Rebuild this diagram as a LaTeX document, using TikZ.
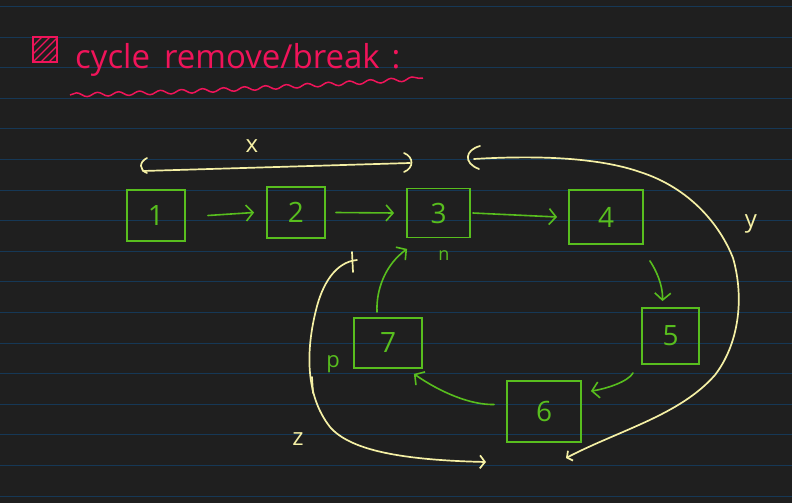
\documentclass[tikz,border=0pt]{standalone}
\usepackage{fontspec}
\setmainfont{Open Sans}
\usetikzlibrary{arrows.meta,decorations.pathmorphing}
\definecolor{bg}{RGB}{31,31,31}
\definecolor{rulec}{RGB}{22,56,86}
\definecolor{grn}{RGB}{88,190,30}
\definecolor{ylw}{RGB}{245,240,165}
\definecolor{pnk}{RGB}{240,20,90}
\begin{document}
\begin{tikzpicture}[x=1pt,y=-1pt,
  box/.style={draw=grn,line width=1.8pt,inner sep=0pt,text=grn,font=\fontsize{28}{28}\selectfont},
  arr/.style={draw=grn,line width=1.6pt,line cap=round,-{Straight Barb[length=7pt,width=16pt,line width=1.6pt]}},
  ypen/.style={draw=ylw,line width=1.7pt,line cap=round,line join=round},
  ylab/.style={text=ylw,font=\fontsize{24}{24}\selectfont},
  glab/.style={text=grn,font=\fontsize{18}{18}\selectfont}]
\fill[bg] (0,0) rectangle (792,503);
\useasboundingbox (0,0) rectangle (792,503);
\foreach \k in {0,...,16}
  \draw[rulec,line width=0.9pt] (0,{6.5+30.6*\k}) -- (792,{6.5+30.6*\k});

% title
\draw[pnk,line width=1.5pt] (33,37) rectangle (57,62);
\begin{scope}
  \clip (33,37) rectangle (57,62);
  \foreach \i in {-24,-16,...,24}
    \draw[pnk,line width=1.3pt] ({33+\i},62) -- ({58+\i},37);
\end{scope}
\node[anchor=base west,text=pnk,inner sep=0pt,font=\fontsize{33}{33}\selectfont] (title) at (75,68) {cycle\hspace{14pt}remove/break\hspace{12pt}:};
\draw[pnk,line width=1.5pt,decorate,decoration={snake,segment length=21pt,amplitude=2pt}]
  (70,95) .. controls (200,92) and (320,85) .. (423,78);

% boxes
\node[box,minimum width=58pt,minimum height=51pt] (n1) at (156,215.5) {1};
\node[box,minimum width=58pt,minimum height=51pt] (n2) at (296,212.5) {2};
\node[box,minimum width=63pt,minimum height=49pt] (n3) at (438.5,213) {3};
\node[box,minimum width=74pt,minimum height=54pt] (n4) at (606,217) {4};
\node[box,minimum width=57pt,minimum height=56pt] (n5) at (670.5,336) {5};
\node[box,minimum width=74pt,minimum height=61pt] (n6) at (544,411.5) {6};
\node[box,minimum width=68pt,minimum height=50pt] (n7) at (388,343) {7};

% green arrows
\draw[arr] ([xshift=22pt]n1.east) -- ([xshift=-12pt]n2.west);
\draw[arr] ([xshift=10pt]n2.east) -- ([xshift=-12pt]n3.west);
\draw[arr] ([xshift=2pt]n3.east) -- ([xshift=-11pt]n4.west);
\draw[arr] ([shift={(6,16)}]n4.south east) .. controls (656,270) and (663,285) .. ([shift={(-8,-6)}]n5.north);
\draw[arr] ([shift={(-8,8)}]n5.south west) .. controls (628,382) and (605,389) .. ([shift={(9,11)}]n6.north east);
\draw[arr] ([shift={(-12,-7)}]n6.west) .. controls (470,405) and (440,392) .. ([shift={(-9,5)}]n7.south east);
\draw[arr] ([shift={(-11,-5)}]n7.north) .. controls (376,290) and (385,265) .. ([shift={(1,10.5)}]n3.south west);
\node[glab] (nl) at (444,256) {n};
\node[glab,font=\fontsize{22}{22}\selectfont] (pl) at (333,364) {p};

% yellow x span
\coordinate (xl) at (143,171);
\coordinate (xr) at (410,163);
\draw[ypen] (xl) -- (xr);
\draw[ypen] (147,158) .. controls (139,162) and (139,170) .. (147,173);
\draw[ypen] (404,153) .. controls (414,157) and (414,168) .. (404,172);
\node[ylab] (xlab) at (252,146) {x};

% yellow y arc
\coordinate (ys) at (474,159);
\coordinate (ye) at (566,458);
\draw[ypen] (480,146) .. controls (465,150) and (463,163) .. (479,169);
\draw[ypen,-{Straight Barb[length=4pt,width=11pt,line width=1.7pt]}] (ys) .. controls (540,155) and (600,158) .. (640,172)
  .. controls (690,188) and (720,225) .. (733,258)
  .. controls (745,300) and (738,345) .. (715,375)
  .. controls (680,415) and (620,430) .. (ye);
\node[ylab] (ylabn) at (751,224) {y};

% yellow z arc
\coordinate (zs) at (357,260);
\coordinate (ze) at (486,462);
\draw[ypen] (352,252) -- (353,272);
\draw[ypen,-{Straight Barb[length=5pt,width=13pt,line width=1.7pt]}] (zs) .. controls (335,262) and (322,285) .. (316,310)
  .. controls (306,350) and (305,395) .. (330,427)
  .. controls (350,450) and (400,460) .. (ze);
\draw[ypen] (312,377) -- (313,393);
\node[ylab] (zlab) at (298,439) {z};
\end{tikzpicture}
\end{document}
